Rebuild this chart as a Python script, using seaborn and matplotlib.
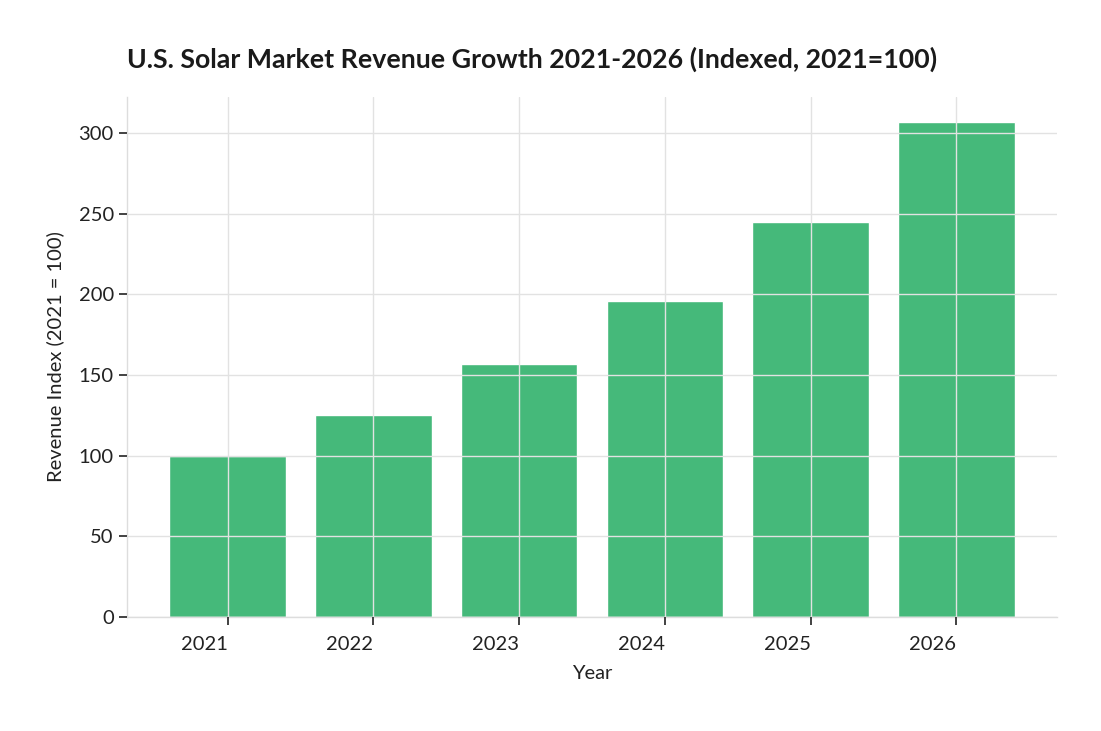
import pandas as pd
import seaborn as sns
from matplotlib import pyplot as plt

# data
years = ['2021', '2022', '2023', '2024', '2025', '2026']
revenue_index = [100, 125, 157, 196, 245, 307]

df = pd.DataFrame({'Year': years, 'Index': revenue_index})

sns.set_theme(style='whitegrid')
plt.rcParams['font.family'] = ['Lato', 'DejaVu Sans']

fig = plt.figure(figsize=(11.01, 7.31), dpi=100)
ax = fig.add_axes([0.1153, 0.156, 0.8447, 0.7113])

sns.barplot(data=df, x='Year', y='Index', color='#45b97a', saturation=1,
            width=0.8, ax=ax)

ax.set_axisbelow(False)
ax.grid(True, color='#e2e2e2', linewidth=1)
ax.set_xlim(-0.69, 5.69)
ax.set_ylim(0, 322.35)
ax.set_yticks([0, 50, 100, 150, 200, 250, 300])

for s in ['top', 'right']:
    ax.spines[s].set_visible(False)
for s in ['left', 'bottom']:
    ax.spines[s].set_color('#dddddd')
    ax.spines[s].set_linewidth(1)

ax.tick_params(axis='both', which='both', length=6, width=1.3, color='#333333',
               labelsize=14.5, labelcolor='#222222', bottom=True, left=True)
ax.tick_params(axis='x', pad=8)
plt.setp(ax.get_xticklabels(), ha='right')

ax.set_xlabel('Year', fontsize=14.5, color='#222222', labelpad=8)
ax.set_ylabel('Revenue Index (2021 = 100)', fontsize=14.5, color='#222222', labelpad=10)
ax.set_title('U.S. Solar Market Revenue Growth 2021-2026 (Indexed, 2021=100)',
             loc='left', fontsize=19.3, fontweight='bold', color='#1a1a1a', pad=21)

fig.savefig('out.png', dpi=100)
